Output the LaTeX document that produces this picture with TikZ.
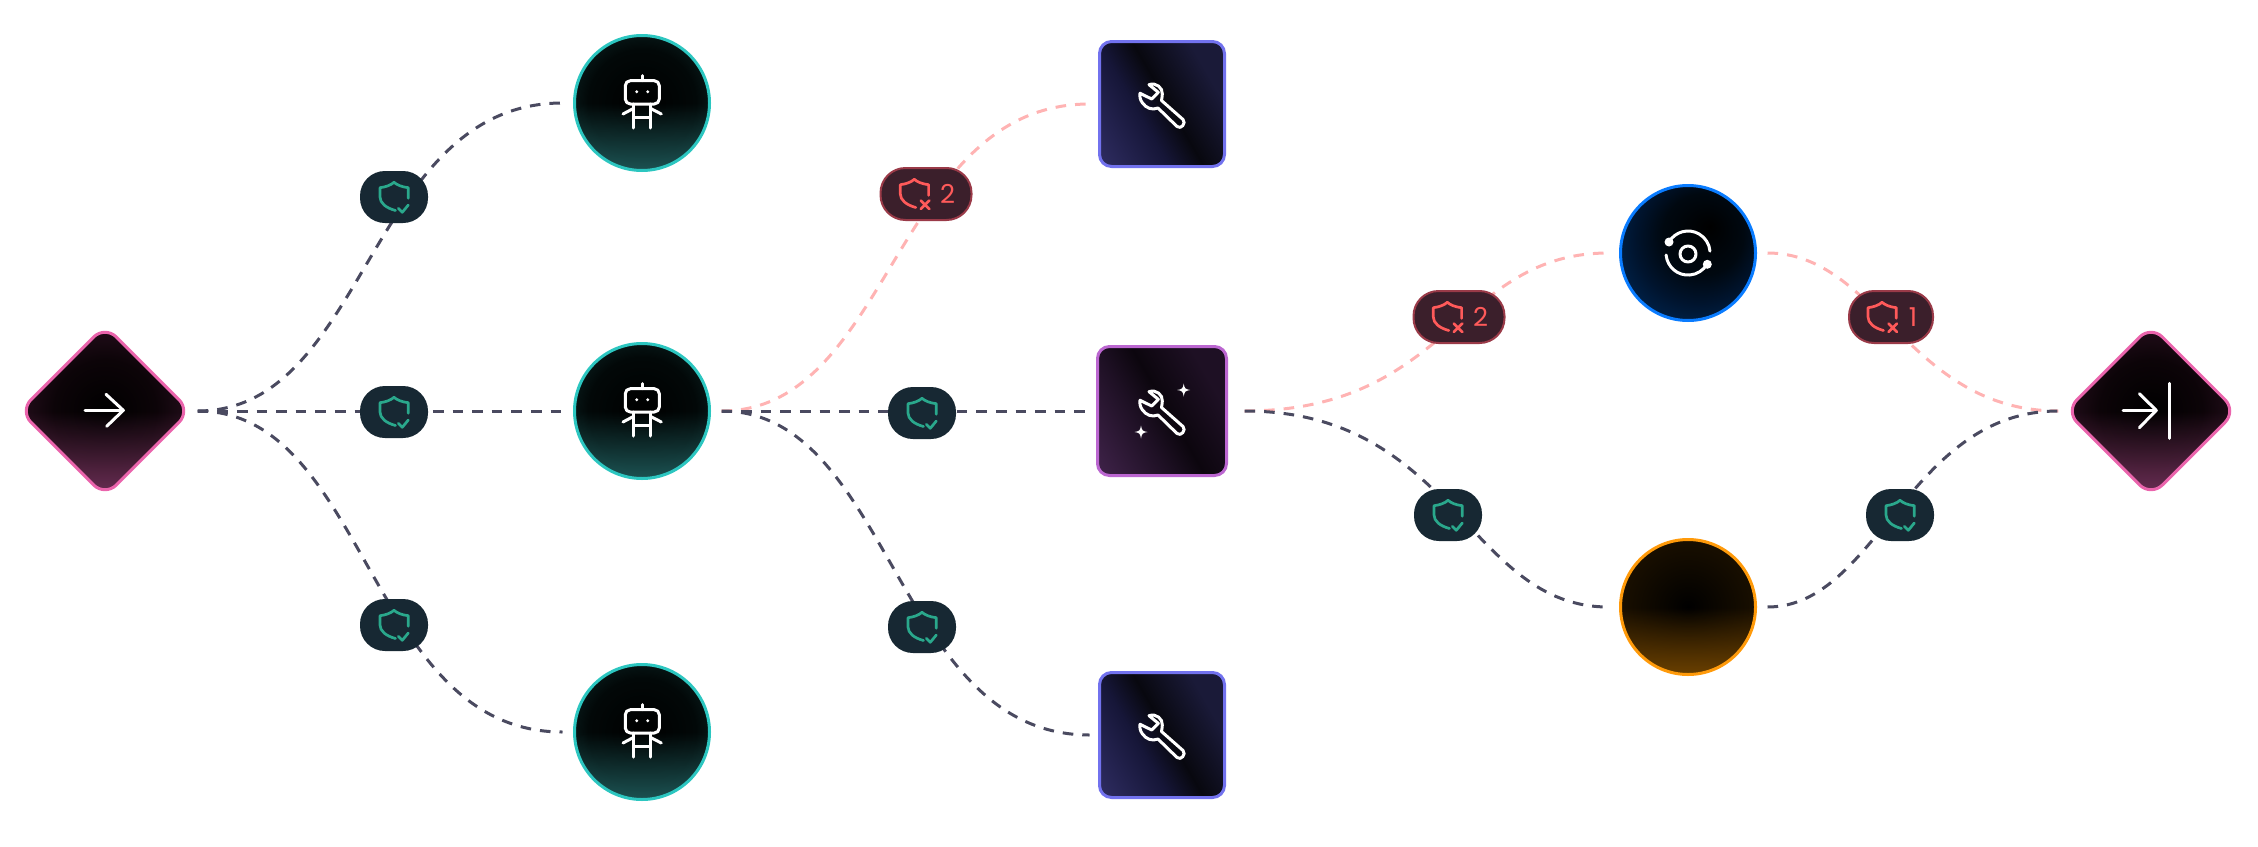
\documentclass[tikz,border=0pt]{standalone}
\usepackage{fontspec}
\setmainfont{Poppins}
\usetikzlibrary{shapes.geometric, positioning, fadings}
\usepackage{xcolor}
\definecolor{flowdark}{HTML}{4A4A60}
\definecolor{flowpink}{HTML}{FFB3B3}
\definecolor{okfill}{HTML}{172833}
\definecolor{okmark}{HTML}{2AA88C}
\definecolor{failfill}{HTML}{3B1F2B}
\definecolor{failedge}{HTML}{9A3A48}
\definecolor{failmark}{HTML}{FF5A5A}
\definecolor{tealedge}{HTML}{2CC6C0}
\definecolor{pinkedge}{HTML}{EA64AC}
\definecolor{violetedge}{HTML}{7272EE}
\definecolor{purpleedge}{HTML}{BB66D0}
\definecolor{blueedge}{HTML}{0A7CFF}
\definecolor{orangeedge}{HTML}{FF9A0A}
% shading stops
\definecolor{pinkA}{HTML}{0C0408}
\definecolor{pinkB}{HTML}{2A1020}
\definecolor{pinkC}{HTML}{6A2E54}
\definecolor{tealA}{HTML}{020808}
\definecolor{tealB}{HTML}{0A2020}
\definecolor{tealC}{HTML}{1C5252}
\definecolor{blueA}{HTML}{000810}
\definecolor{blueB}{HTML}{00142E}
\definecolor{blueC}{HTML}{003A78}
\definecolor{amberB}{HTML}{1E1200}
\definecolor{amberC}{HTML}{6A4000}
\definecolor{violetA}{HTML}{2E2C60}
\definecolor{violetB}{HTML}{161638}
\definecolor{violetC}{HTML}{08080F}
\definecolor{violetD}{HTML}{1A1A38}
\definecolor{purpleA}{HTML}{3E2248}
\definecolor{purpleB}{HTML}{1E1024}
\definecolor{purpleC}{HTML}{0C060E}
\pgfdeclareradialshading{glowpink}{\pgfpoint{0bp}{0bp}}{
  color(0bp)=(black); color(15bp)=(pinkA); color(28bp)=(pinkB); color(50bp)=(pinkB)}
\pgfdeclareradialshading{glowteal}{\pgfpoint{0bp}{0bp}}{
  color(0bp)=(black); color(20bp)=(tealA); color(30bp)=(tealB); color(50bp)=(tealB)}
\pgfdeclareradialshading{glowblue}{\pgfpoint{8bp}{10bp}}{
  color(0bp)=(black); color(15bp)=(blueA); color(24bp)=(blueB);
  color(44bp)=(blueC); color(50bp)=(blueC)}
\pgfdeclareradialshading{glowamber}{\pgfpoint{0bp}{0bp}}{
  color(0bp)=(black); color(30bp)=(amberB); color(50bp)=(amberB)}
\pgfdeclarehorizontalshading{glowviolet}{100bp}{
  color(0bp)=(violetA); color(17bp)=(violetA);
  color(40bp)=(violetB); color(52bp)=(violetC);
  color(72bp)=(violetD); color(100bp)=(violetD)}
\pgfdeclarehorizontalshading{glowpurple}{100bp}{
  color(0bp)=(purpleA); color(17bp)=(purpleA);
  color(40bp)=(purpleB); color(52bp)=(purpleC);
  color(72bp)=(purpleB); color(100bp)=(purpleB)}
\tikzfading[name=fadeup, bottom color=transparent!0, top color=transparent!100,
  middle color=transparent!100]
\tikzset{
  bottomglow/.style={
    path picture={\fill[#1, path fading=fadeup] (path picture bounding box.south west)
      rectangle (path picture bounding box.north east);}
  },
  icon/.style={draw=white, line width=1.5pt, line cap=round, line join=round},
  okline/.style={draw=okmark, line width=1.35pt, line cap=round, line join=round},
  failline/.style={draw=failmark, line width=1.35pt, line cap=round, line join=round},
  robot/.pic={
    \draw[icon, rounded corners=2.5pt] (-16.7,-22.3) rectangle (17.3,1);
    \draw[icon] (0,-27.3) -- (0,-22.3);
    \fill[white] (-5.3,-11.3) circle (1.6) (5.7,-11.3) circle (1.6);
    \draw[icon] (-8.3,1) -- (-8.3,25) (8.3,1) -- (8.3,25) (-8.3,14.3) -- (8.3,14.3);
    \draw[icon] (-8.3,5.3) -- (-19,11) (8.3,5.3) -- (19.3,11);
  },
  wrench/.pic={
    \draw[icon] (-13,-19.3) .. controls (-6,-22) and (1,-16) .. (0.3,-10)
      .. controls (0.2,-7.5) and (-0.2,-5.5) .. (-0.5,-3.5) -- (21,15.5)
      .. controls (24.5,19) and (19,26) .. (15,22.5) -- (-4,4)
      .. controls (-10,6.5) and (-16,4) .. (-19.5,-1)
      .. controls (-22,-4) and (-22.5,-8) .. (-22,-10.7)
      -- (-10.3,-5) -- (-3.7,-11.7) -- cycle;
  },
  sparkle/.pic={
    \fill[white] (0,-6.5) .. controls (0.8,-1.5) and (1.5,-0.8) .. (6.5,0)
      .. controls (1.5,0.8) and (0.8,1.5) .. (0,6.5)
      .. controls (-0.8,1.5) and (-1.5,0.8) .. (-6.5,0)
      .. controls (-1.5,-0.8) and (-0.8,-1.5) .. (0,-6.5) -- cycle;
  },
  orbit/.pic={
    \draw[icon] (0,1) circle (8);
    \draw[icon] (-19,-11) arc (-150:-5:22);
    \draw[icon] (-21.9,2) arc (175:30:22);
    \fill[white] (-19,-11) circle (4.5) (19.3,11.3) circle (4.5);
  },
  arrowin/.pic={
    \draw[icon] (-20,-0.7) -- (18.3,-0.7);
    \draw[icon] (1,-16.7) -- (18.3,-0.7) -- (1.7,15.3);
  },
  arrowout/.pic={
    \draw[icon] (-28,-0.7) -- (5.3,-0.7);
    \draw[icon] (-11.7,-17.3) -- (5.3,-0.7) -- (-11.7,16.7);
    \draw[icon] (18,-27.7) -- (18,27.3);
  },
  okshield/.pic={
    \draw[okline] (14.3,1.3) -- (14.3,-9.3) .. controls (8,-10) and (3,-12) .. (0,-14.7)
      .. controls (-3,-12) and (-8,-10) .. (-14,-9.3) -- (-14,0)
      .. controls (-14,6) and (-8,11) .. (1.5,13.5);
    \draw[okline] (4.3,11.3) -- (8.3,15.3) -- (14.3,8);
  },
  failshield/.pic={
    \draw[failline] (14.3,1.3) -- (14.3,-9.3) .. controls (8,-10) and (3,-12) .. (0,-14.7)
      .. controls (-3,-12) and (-8,-10) .. (-14,-9.3) -- (-14,0)
      .. controls (-14,6) and (-8,11) .. (1.5,13.5);
    \draw[failline] (6.5,6.5) -- (15,15) (15,6.5) -- (6.5,15);
  }
}
\begin{document}
\begin{tikzpicture}[
  x=0.5pt, y=-0.5pt,
  on grid,
  gate/.style={
    diamond, aspect=1, inner sep=0pt, outer sep=2.6pt, minimum size=87.5pt,
    rounded corners=8pt, draw=pinkedge, line width=1.5pt, shading=glowpink,
    bottomglow=pinkC
  },
  agent/.style={
    circle, inner sep=0pt, outer sep=6pt, minimum size=67.5pt,
    line width=1.5pt, draw=tealedge, shading=glowteal, bottomglow=tealC
  },
  tool/.style={
    rectangle, rounded corners=6pt, inner sep=0pt, outer sep=5pt, minimum size=62.5pt,
    line width=1.5pt, draw=violetedge, shading=glowviolet, shading angle=30
  },
  okflow/.style={draw=flowdark, line width=1.5pt, dash pattern=on 5.3pt off 4.5pt},
  failflow/.style={draw=flowpink, line width=1.5pt, dash pattern=on 5.3pt off 4.5pt},
  okbadge/.style={
    rectangle, rounded corners=12.5pt, minimum width=34pt, minimum height=26pt,
    inner sep=0pt, fill=okfill
  },
  failbadge/.style={
    rectangle, rounded corners=12.5pt, minimum width=45.5pt, minimum height=26pt,
    inner sep=0pt, fill=failfill, draw=failedge, line width=1pt,
    text=failmark, font=\fontsize{13}{15}\selectfont
  }
]
  \useasboundingbox (0,0) rectangle (2258,846);

  % Nodes
  \node[gate] (enter) at (105,411) {};
  \node[agent, right=268.5pt of enter] (agentmid) {};
  \node[agent, above=154pt of agentmid] (agenttop) {};
  \node[agent, below=160.5pt of agentmid] (agentbot) {};
  \node[tool, right=260pt of agentmid, outer sep=3pt, minimum size=64.5pt, draw=purpleedge,
    shading=glowpurple] (toolmid) {};
  \node[tool, above=153.5pt of toolmid] (tooltop) {};
  \node[tool, below=162pt of toolmid] (toolbot) {};
  \node[agent, above right=79pt and 263pt of toolmid, draw=blueedge, shading=glowblue,
    path picture={}] (sync) {};
  \node[agent, below right=98pt and 263pt of toolmid, draw=orangeedge, shading=glowamber,
    bottomglow=amberC] (hold) {};
  \node[gate, right=494.5pt of toolmid] (leave) {};

  % Icons
  \pic at (enter) {arrowin};
  \pic at (leave) {arrowout};
  \pic at (agenttop) {robot};
  \pic at (agentmid) {robot};
  \pic at (agentbot) {robot};
  \pic at (tooltop) {wrench};
  \pic at (toolmid) {wrench};
  \pic at (toolbot) {wrench};
  \pic at ([shift={(21.7,-21)}]toolmid.center) {sparkle};
  \pic at ([shift={(-21,21)}]toolmid.center) {sparkle};
  \pic at (sync) {orbit};

  % Connectors
  \draw[okflow] (enter.east) .. controls +(170,0) and +(-195,0) .. (agenttop.west);
  \draw[okflow] (enter.east) -- (agentmid.west);
  \draw[okflow] (enter.east) .. controls +(170,0) and +(-195,0) .. (agentbot.west);
  \draw[failflow] (agentmid.east) .. controls +(170,0) and +(-195,0) .. (tooltop.west);
  \draw[okflow] (agentmid.east) -- (toolmid.west);
  \draw[okflow] (agentmid.east) .. controls +(170,0) and +(-195,0) .. (toolbot.west);
  \draw[failflow] ([xshift=6pt]toolmid.east) .. controls +(205,0) and +(-150,0) .. (sync.west);
  \draw[okflow] ([xshift=6pt]toolmid.east) .. controls +(210,0) and +(-140,0) .. (hold.west);
  \draw[failflow] (sync.east) .. controls +(110,0) and +(-150,0) .. (leave.west);
  \draw[okflow] (hold.east) .. controls +(110,0) and +(-150,0) .. (leave.west);

  % Badges
  \node[okbadge] (checkA) at (394,197) {};
  \node[okbadge] (checkB) at (394,412) {};
  \node[okbadge] (checkC) at (394,625) {};
  \node[okbadge] (checkD) at (922,413) {};
  \node[okbadge] (checkE) at (922,627) {};
  \node[okbadge] (checkF) at (1448,515) {};
  \node[okbadge] (checkG) at (1900,515) {};
  \node[failbadge] (failA) at (926,194) {\hspace*{21.7pt}2};
  \node[failbadge] (failB) at (1459,317) {\hspace*{21.7pt}2};
  \node[failbadge, minimum width=42pt] (failC) at (1891,317) {\hspace*{22pt}1};
  \foreach \badge in {checkA,checkB,checkC,checkD,checkE,checkF,checkG}
    \pic at (\badge) {okshield};
  \pic at ([xshift=-5.85pt]failA.center) {failshield};
  \pic at ([xshift=-5.85pt]failB.center) {failshield};
  \pic at ([xshift=-4.5pt]failC.center) {failshield};
\end{tikzpicture}
\end{document}
